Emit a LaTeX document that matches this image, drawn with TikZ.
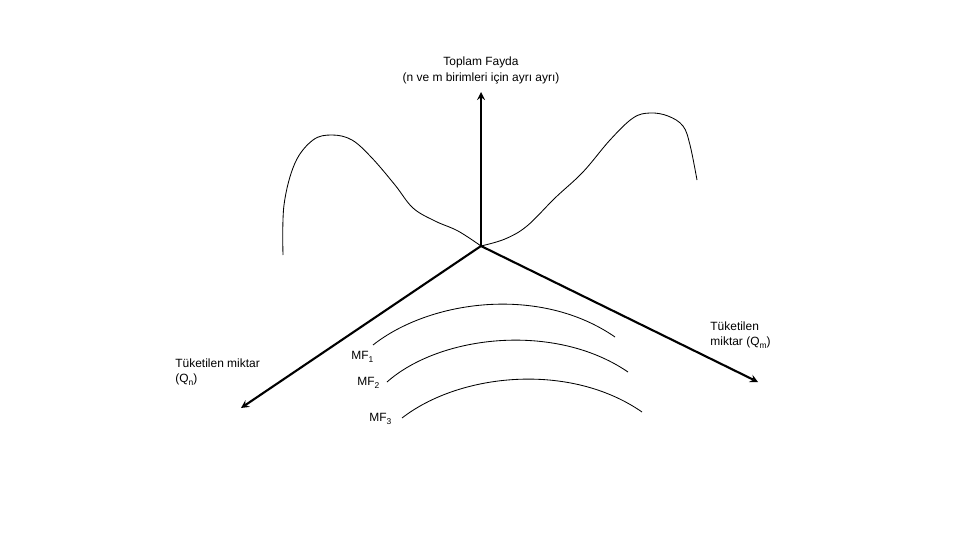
\documentclass[tikz,border=0pt]{standalone}
\usepackage{fontspec}
\setmainfont{Liberation Sans}
\newcommand{\altindis}[1]{\raisebox{-0.45ex}{\fontsize{6}{6}\selectfont #1}}
\begin{document}
\begin{tikzpicture}[x=0.025cm,y=-0.025cm,line width=0.6pt,>=stealth,font=\fontsize{8.5}{11.3}\selectfont,
	eksen/.style={line width=1.5pt,->},
	egri/.style={line width=0.6pt}]
				\useasboundingbox (0,0) rectangle (960,540);
				\coordinate (O) at (481,246);
				\coordinate (fayda) at (481,92);
				\coordinate (qn) at (241,408);
				\coordinate (qm) at (758,382);
				\draw[eksen] (O)--(fayda);
				\draw[eksen] (O)--(qn);
				\draw[eksen] (O)--(qm);
				\node[align=center] (baslik) at (481,70) {Toplam Fayda\\(n ve m birimleri için ayrı ayrı)};
				\node[anchor=north west,align=left,inner sep=0pt] (etiketn) at (175,358) {Tüketilen miktar\\(Q\altindis{n})};
				\node[anchor=north west,align=left,inner sep=0pt] (etiketm) at (710,321) {Tüketilen\\miktar (Q\altindis{m})};
				% toplam fayda egrileri
				\draw[egri] plot[smooth,tension=0.6] coordinates {(283,255) (284,205) (295,163) (313,140) (332,135) (352,140) (372,158) (395,185) (413,208) (435,221) (458,231) (481,246)};
				\draw[egri] plot[smooth,tension=0.6] coordinates {(481,246) (505,239) (527,226) (555,198) (583,172) (610,140) (633,118) (650,113) (668,116) (683,126) (690,145) (697,180)};
				% marjinal fayda egrileri
				\draw[egri] (373,345) .. controls (430,300) and (540,285) .. (615,337);
				\draw[egri] (387,382) .. controls (440,335) and (555,322) .. (628,372);
				\draw[egri] (402,418) .. controls (460,373) and (570,362) .. (642,412);
				\node[anchor=west,inner sep=0pt] (mf1) at (351,357) {MF\altindis{1}};
				\node[anchor=west,inner sep=0pt] (mf2) at (357,383) {MF\altindis{2}};
				\node[anchor=west,inner sep=0pt] (mf3) at (369,419) {MF\altindis{3}};
\end{tikzpicture}
\end{document}
